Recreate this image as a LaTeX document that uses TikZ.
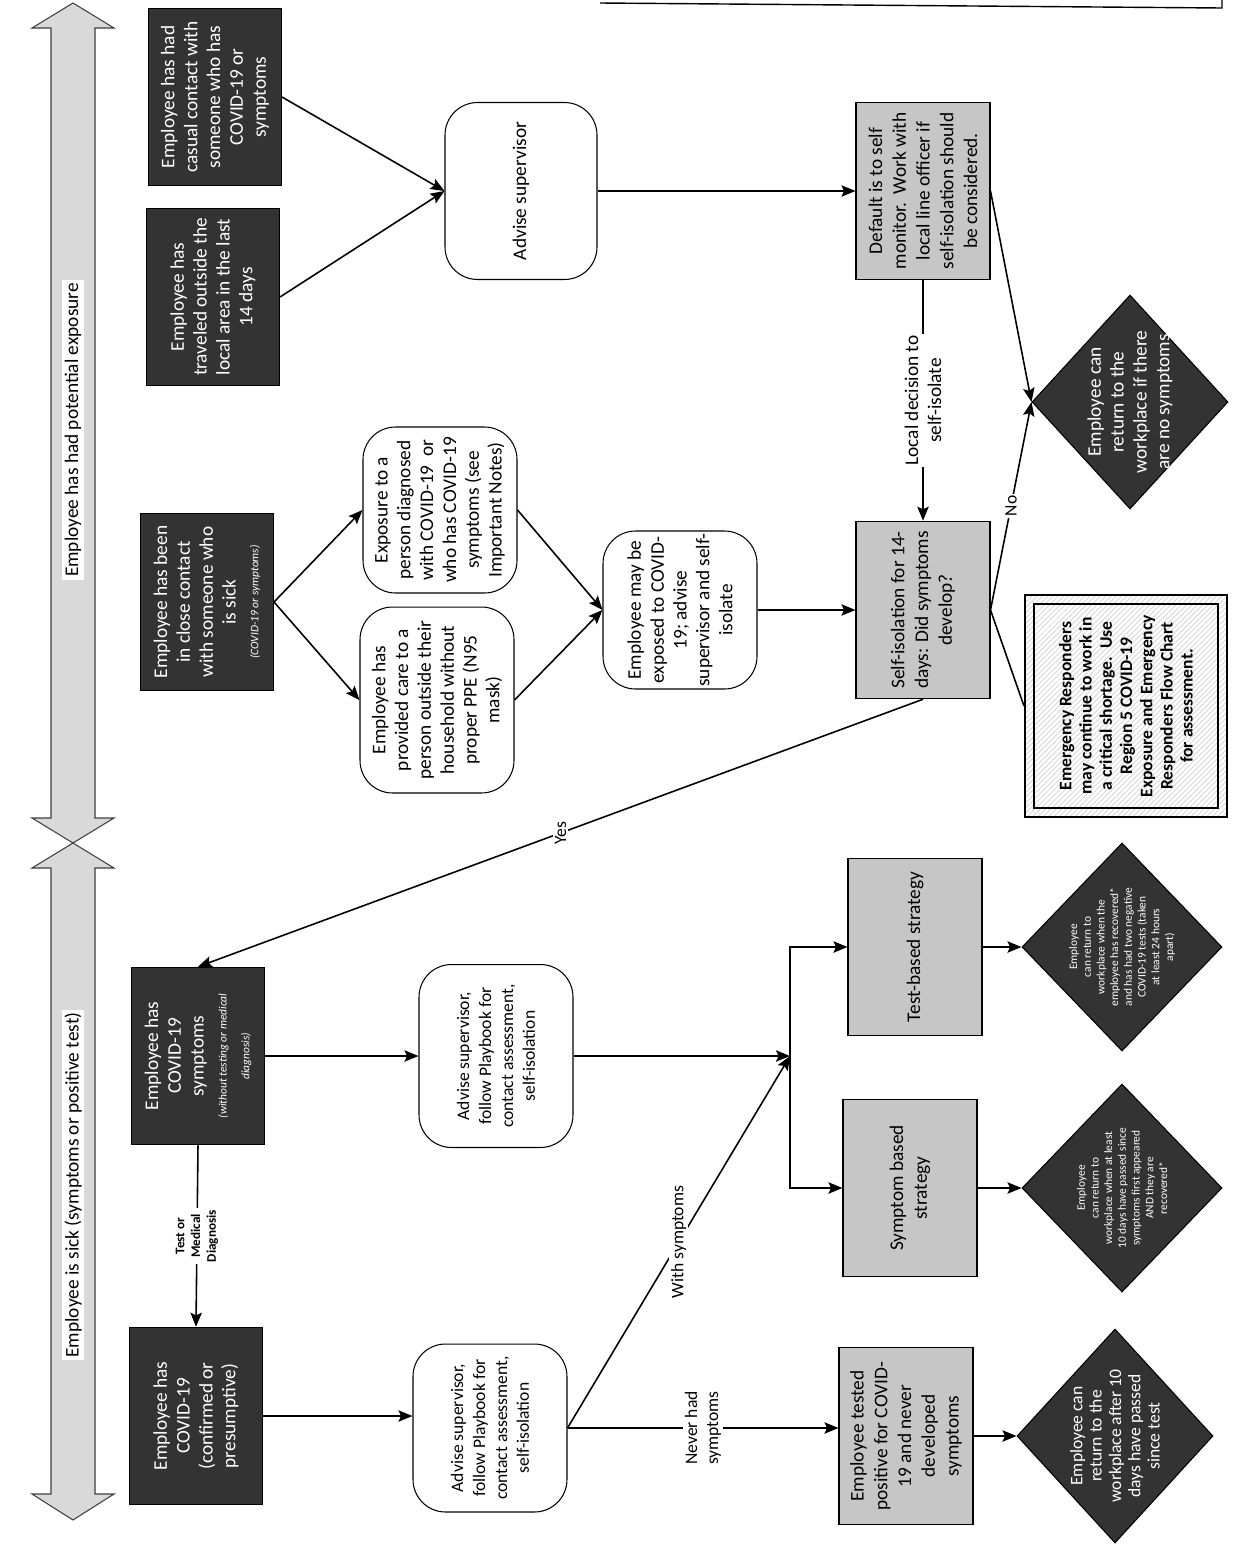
\documentclass[tikz,border=0pt]{standalone}
\usepackage{fontspec}
\setmainfont{Carlito}
\usetikzlibrary{shapes.geometric}
\usetikzlibrary{arrows.meta}
\usetikzlibrary{patterns}
\definecolor{boxdark}{HTML}{333333}
\definecolor{boxgrey}{HTML}{C6C6C6}
\definecolor{bandgrey}{HTML}{D9D9D9}
\newcommand{\smallnote}{\fontsize{6.5}{8}\selectfont\itshape}
\tikzstyle{every node} = [rotate=90]
\tikzstyle{darkbox} = [rectangle, draw=black, line width=0.6pt, fill=boxdark, text=white, minimum width=3.55cm, minimum height=2.66cm, inner sep=2pt, align=center, font=\fontsize{11}{13}\selectfont]
\tikzstyle{greybox} = [rectangle, draw=black, line width=0.6pt, fill=boxgrey, minimum width=3.55cm, minimum height=2.68cm, inner sep=2pt, align=center, font=\fontsize{11}{13.5}\selectfont]
\tikzstyle{roundbox} = [rectangle, rounded corners=0.65cm, draw=black, line width=0.6pt, fill=white, minimum width=3.4cm, minimum height=3.08cm, inner sep=1pt, align=center, font=\fontsize{11}{13}\selectfont]
\tikzstyle{emergbox} = [rectangle, draw=black, line width=1.2pt, pattern=north east lines, pattern color=gray!35, minimum width=4.44cm, minimum height=4.04cm, align=center, font=\bfseries\fontsize{10}{11.5}\selectfont]
\tikzstyle{darkdiamond} = [diamond, draw=black, line width=0.6pt, fill=boxdark, inner sep=0pt]
\tikzstyle{diamondtext} = [text=white, inner sep=0pt, align=center]
\tikzstyle{linklabel} = [fill=white, inner sep=1pt, align=center, font=\fontsize{10}{12}\selectfont]
\tikzstyle{bandlabel} = [fill=white, inner sep=1.5pt, font=\fontsize{11}{13}\selectfont]
\tikzstyle{band} = [draw=black!75, line width=0.6pt, fill=bandgrey]
\tikzstyle{flow} = [draw, line width=0.9pt, -{Stealth[length=8pt, width=6.5pt, inset=1.5pt]}]
\tikzstyle{joinline} = [draw, line width=0.9pt]

\begin{document}
\begin{tikzpicture}[x=0.02cm, y=0.02cm]
        \useasboundingbox (0,0) rectangle (1234,-1549);

        \draw[band] (73,-3) -- (114,-28) -- (95,-28) -- (95,-818) -- (114,-818) -- (73,-843) -- (32,-818) -- (51,-818) -- (51,-28) -- (32,-28) -- cycle;
        \draw[band] (73,-843) -- (114,-868) -- (95,-868) -- (95,-1494) -- (114,-1494) -- (73,-1520) -- (32,-1494) -- (51,-1494) -- (51,-868) -- (32,-868) -- cycle;
        \node[bandlabel] (exposed) at (73,-430) {Employee has had potential exposure};
        \node[bandlabel] (sick) at (73,-1185) {Employee is sick (symptoms or positive test)};

        \draw[line width=0.8pt] (600,-3) -- (1222,-8) -- (1222,0);

        \node[darkbox] (casual) at (215,-97) {Employee has had\\casual contact with\\someone who has\\COVID-19 or\\symptoms};
        \node[darkbox] (travel) at (213,-297) {Employee has\\traveled outside the\\local area in the last\\14 days};
        \node[darkbox] (close) at (207,-602) {Employee has been\\in close contact\\with someone who\\is sick\\{\smallnote (COVID-19 or symptoms)}};
        \node[darkbox] (symptoms) at (198,-1056) {Employee has\\COVID-19\\symptoms\\{\smallnote (without testing or medical}\\{\smallnote diagnosis)}};
        \node[darkbox] (covid) at (196,-1416) {Employee has\\COVID-19\\(confirmed or\\presumptive)};

        \node[roundbox, minimum width=3.54cm, minimum height=3.04cm] (advise) at (521,-191) {Advise supervisor};
        \node[roundbox, minimum width=3.32cm] (exposure) at (440,-510) {Exposure to a\\person diagnosed\\with COVID-19\ \ or\\who has COVID-19\\symptoms (see\\Important Notes)};
        \node[roundbox, minimum width=3.72cm] (care) at (437,-700) {Employee has\\provided care to a\\person outside their\\household without\\proper PPE (N95\\mask)};
        \node[roundbox, minimum width=3.16cm] (maybe) at (680,-610) {Employee may be\\exposed to COVID-\\19; advise\\supervisor and self-\\isolate};
        \node[roundbox, minimum width=3.66cm, font=\fontsize{10}{12.5}\selectfont] (advisesick) at (496,-1056) {Advise supervisor,\\follow Playbook for\\contact assessment,\\self-isolation};
        \node[roundbox, minimum width=3.36cm, font=\fontsize{10}{12.5}\selectfont] (advisepos) at (490,-1428) {Advise supervisor,\\follow Playbook for\\contact assessment,\\self-isolation};

        \node[greybox] (monitor) at (923,-191) {Default is to self\\monitor.\ \ Work with\\local line officer if\\self-isolation should\\be considered.};
        \node[greybox] (isolate) at (923,-610) {Self-isolation for 14-\\days: Did symptoms\\develop?};
        \node[greybox] (testbased) at (915,-947) {Test-based strategy};
        \node[greybox] (symbased) at (910,-1188) {Symptom based\\strategy};
        \node[greybox] (tested) at (906,-1436) {Employee tested\\positive for COVID-\\19 and never\\developed\\symptoms};

        \node[emergbox] (responders) at (1126,-706) {Emergency Responders\\may continue to work in\\a critical shortage.\ \ Use\\Region 5 COVID-19\\Exposure and Emergency\\Responders Flow Chart\\for assessment.};
        \draw[line width=1.2pt] ([shift={(10,10)}]responders.north west) rectangle ([shift={(-10,-10)}]responders.south east);

        \node[darkdiamond, minimum width=4.28cm, minimum height=3.92cm] (backok) at (1130,-402) {};
        \node[diamondtext, font=\fontsize{11}{13}\selectfont] (backok-text) at (backok.center) {Employee can\\return to the\\workplace if there\\are no symptoms};
        \node[darkdiamond, minimum width=4.16cm, minimum height=4cm] (backtest) at (1122,-947) {};
        \node[diamondtext, font=\fontsize{6.5}{7.8}\selectfont] (backtest-text) at (backtest.center) {Employee\\can return to\\workplace when the\\employee has recovered*\\and has had two negative\\COVID-19 tests (taken\\at least 24 hours\\apart)};
        \node[darkdiamond, minimum width=4.16cm, minimum height=4cm] (backsym) at (1122,-1188) {};
        \node[diamondtext, font=\fontsize{6.5}{7.8}\selectfont] (backsym-text) at (backsym.center) {Employee\\can return to\\workplace when at least\\10 days have passed since\\symptoms first appeared\\AND they are\\recovered*};
        \node[darkdiamond, minimum width=4.28cm, minimum height=3.92cm] (backtime) at (1115,-1436) {};
        \node[diamondtext, font=\fontsize{10}{11}\selectfont] (backtime-text) at (backtime.center) {Employee can\\return to the\\workplace after 10\\days have passed\\since test};

        \coordinate (junc) at (790,-1056);

        \draw[flow] (casual.south) -- (advise.north);
        \draw[flow] (travel.south) -- (advise.north);
        \draw[flow] (advise.south) -- (monitor.north);
        \draw[flow] (monitor.west) -- node[linklabel, font=\fontsize{11}{13}\selectfont] {Local decision to\\self-isolate} (isolate.east);
        \draw[flow] (monitor.south) -- (backok.north);
        \draw[flow] (isolate.south) -- node[linklabel] {No} (backok.north);
        \draw[joinline] (isolate.south) -- (responders.north);
        \draw[flow] (isolate.west) -- node[linklabel] {Yes} (symptoms.east);

        \draw[flow] (close.south) -- (exposure.north);
        \draw[flow] (close.south) -- (care.north);
        \draw[flow] (exposure.south) -- (maybe.north);
        \draw[flow] (care.south) -- (maybe.north);
        \draw[flow] (maybe.south) -- (isolate.north);

        \draw[flow] (symptoms.south) -- (advisesick.north);
        \draw[flow] (symptoms.west) -- node[linklabel, font=\bfseries\fontsize{7.5}{9}\selectfont] {Test or\\Medical\\Diagnosis} (covid.east);
        \draw[flow] (covid.south) -- (covid.south -| advisepos.north);
        \draw[flow] (advisesick.south) -- (junc);
        \draw[flow] (advisepos.south) -- node[linklabel] {With symptoms} (junc);
        \draw[flow] (junc) |- (testbased.north);
        \draw[flow] (junc) |- (symbased.north);
        \draw[flow] (advisepos.south) -- node[linklabel] {Never had\\symptoms} (advisepos.south -| tested.north);

        \draw[flow] (testbased.south) -- (backtest.north);
        \draw[flow] (symbased.south) -- (backsym.north);
        \draw[flow] (tested.south) -- (backtime.north);
\end{tikzpicture}
\end{document}
